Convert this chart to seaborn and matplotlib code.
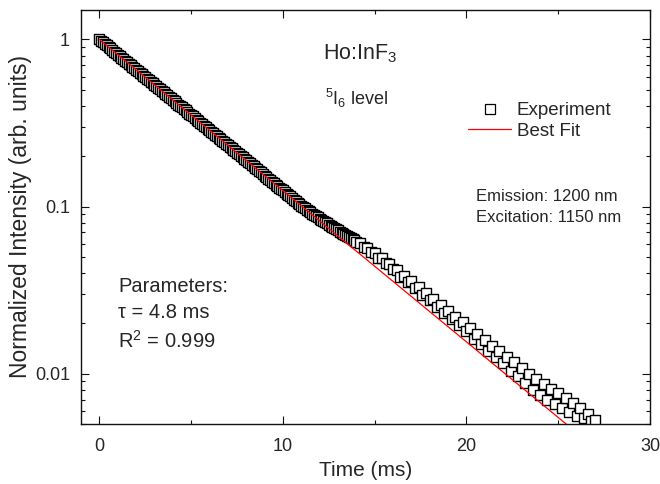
import numpy as np
import pandas as pd
import matplotlib
matplotlib.use("Agg")
import matplotlib.pyplot as plt
import seaborn as sns
from matplotlib.lines import Line2D
from matplotlib.ticker import LogLocator, NullFormatter, FixedLocator, MultipleLocator

# Measured luminescence decay, sampled every 0.1 ms up to 14 ms
intensity_early = [
    1.000, 0.979, 0.959, 0.939, 0.920, 0.901, 0.883, 0.864, 0.846, 0.829,
    0.812, 0.795, 0.779, 0.763, 0.747, 0.732, 0.717, 0.702, 0.687, 0.673,
    0.659, 0.646, 0.632, 0.619, 0.607, 0.594, 0.582, 0.570, 0.558, 0.547,
    0.535, 0.524, 0.513, 0.503, 0.492, 0.482, 0.472, 0.463, 0.453, 0.444,
    0.435, 0.426, 0.417, 0.408, 0.400, 0.392, 0.384, 0.376, 0.368, 0.360,
    0.353, 0.346, 0.338, 0.331, 0.325, 0.318, 0.311, 0.305, 0.299, 0.293,
    0.287, 0.281, 0.275, 0.269, 0.264, 0.258, 0.253, 0.248, 0.243, 0.238,
    0.233, 0.228, 0.223, 0.219, 0.214, 0.210, 0.205, 0.201, 0.197, 0.193,
    0.189, 0.185, 0.181, 0.177, 0.174, 0.170, 0.167, 0.163, 0.160, 0.157,
    0.153, 0.150, 0.147, 0.144, 0.141, 0.138, 0.135, 0.133, 0.130, 0.127,
    0.125, 0.122, 0.119, 0.117, 0.115, 0.112, 0.110, 0.108, 0.105, 0.103,
    0.1011, 0.0993, 0.0976, 0.0958, 0.0941, 0.0925, 0.0908, 0.0892, 0.0876, 0.0861,
    0.0845, 0.0832, 0.0819, 0.0806, 0.0793, 0.0780, 0.0768, 0.0756, 0.0743, 0.0732,
    0.0720, 0.0709, 0.0698, 0.0687, 0.0677, 0.0667, 0.0656, 0.0646, 0.0636, 0.0627,
    0.0617,
]

# ... and every 0.2 ms from 14.2 ms to 27 ms
intensity_late = [
    0.0603, 0.0571, 0.0566, 0.0532, 0.0524, 0.0494, 0.0489, 0.0458, 0.0452, 0.0421,
    0.0418, 0.0381, 0.0385, 0.0356, 0.0360, 0.0326, 0.0329, 0.0296, 0.0302, 0.0276,
    0.0280, 0.0249, 0.0256, 0.0231, 0.0238, 0.0211, 0.0219, 0.0195, 0.0203, 0.0180,
    0.0188, 0.0162, 0.0172, 0.0150, 0.0158, 0.0136, 0.0147, 0.0125, 0.0137, 0.0116,
    0.0126, 0.0104, 0.0117, 0.0097, 0.0108, 0.0088, 0.0099, 0.0080, 0.0093, 0.0075,
    0.0087, 0.0070, 0.0081, 0.0066, 0.0077, 0.0062, 0.0072, 0.0059, 0.0067, 0.0056,
    0.0062, 0.0054, 0.0057, 0.0052, 0.0053,
]

time_early = np.round(np.arange(len(intensity_early)) * 0.1, 1)
time_late = np.round(14.2 + np.arange(len(intensity_late)) * 0.2, 1)

# Single-exponential fit parameters
fit_tau_ms = 4.8
fit_r2 = 0.999
fit_time = np.array([0.0, 27.0])

x_ticks = [0, 10, 20, 30]
y_ticks = [0.01, 0.1, 1]
y_tick_labels = ["0.01", "0.1", "1"]

experiment = pd.DataFrame({
    "time": np.concatenate([time_early, time_late]),
    "intensity": np.concatenate([intensity_early, intensity_late]),
})
fit = pd.DataFrame({"time": fit_time, "intensity": np.exp(-fit_time / fit_tau_ms)})

sns.set_style("ticks")
plt.rcParams["font.family"] = ["Liberation Sans", "DejaVu Sans"]
plt.rcParams["mathtext.fontset"] = "custom"
plt.rcParams["mathtext.rm"] = "Liberation Sans"
plt.rcParams["mathtext.it"] = "Liberation Sans:italic"
plt.rcParams["mathtext.default"] = "regular"

W, H = 660, 484
fig = plt.figure(figsize=(W / 100, H / 100), dpi=100)
ax = fig.add_axes([81 / W, 1 - 424 / H, (650 - 81) / W, (424 - 10) / H])

sns.scatterplot(data=experiment, x="time", y="intensity", marker="s", s=50,
                color="white", edgecolor="black", linewidth=1.0, ax=ax,
                zorder=2, legend=False)
sns.lineplot(data=fit, x="time", y="intensity", color="red", linewidth=0.9,
             ax=ax, legend=False)
for line in ax.lines:
    line.set_zorder(5)

ax.set_yscale("log")
ax.set_xlim(-1, 30)
ax.set_ylim(0.005, 1.5)
ax.xaxis.set_major_locator(FixedLocator(x_ticks))
ax.xaxis.set_minor_locator(MultipleLocator(5))
ax.yaxis.set_major_locator(FixedLocator(y_ticks))
ax.set_yticklabels(y_tick_labels)
ax.yaxis.set_minor_locator(LogLocator(base=10, subs=range(2, 10)))
ax.yaxis.set_minor_formatter(NullFormatter())

for s in ax.spines.values():
    s.set_linewidth(1.0)
    s.set_color("#111111")
ax.tick_params(which="both", direction="in", top=True, right=True,
               color="#111111", width=0.8, labelsize=13)
ax.tick_params(axis="y", pad=8)
ax.tick_params(axis="x", pad=10)
ax.tick_params(which="major", length=5.5)
ax.tick_params(which="minor", length=3)

ax.set_xlabel("Time (ms)", fontsize=15)
ax.set_ylabel("Normalized Intensity (arb. units)", fontsize=16.5)
ax.xaxis.set_label_coords(0.5, -46 / 414)
ax.xaxis.label.set_va("center")
ax.yaxis.set_label_coords(-60 / 569, 0.5)
ax.yaxis.label.set_va("center")
ax.yaxis.label.set_ha("center")


def fpos(x, y):
    return x / W, 1 - y / H


fig.text(*fpos(323, 59), "Ho:InF$_3$", fontsize=15.5, va="baseline")
fig.text(*fpos(325, 105), "$^5$I$_6$ level", fontsize=13, va="baseline")
fig.text(*fpos(476, 197), "Emission: 1200 nm", fontsize=12, va="center")
fig.text(*fpos(476, 218), "Excitation: 1150 nm", fontsize=12, va="center")
fig.text(*fpos(118, 287), "Parameters:", fontsize=14.5, va="center")
fig.text(*fpos(118, 312), f"τ = {fit_tau_ms} ms", fontsize=14.5, va="center")
fig.text(*fpos(118, 341), f"R$^2$ = {fit_r2}", fontsize=14.5, va="center")

handles = [
    Line2D([], [], linestyle="none", marker="s", markersize=7,
           markerfacecolor="white", markeredgecolor="black", markeredgewidth=0.9),
    Line2D([], [], color="red", linewidth=0.9),
]
ax.legend(handles, ["Experiment", "Best Fit"], loc="upper left",
          bbox_to_anchor=fpos(468, 102), bbox_transform=fig.transFigure,
          frameon=False, fontsize=13.5, handlelength=2.3, handletextpad=0.3,
          labelspacing=0.2, borderpad=0, borderaxespad=0)

fig.savefig("out.png", dpi=100)
